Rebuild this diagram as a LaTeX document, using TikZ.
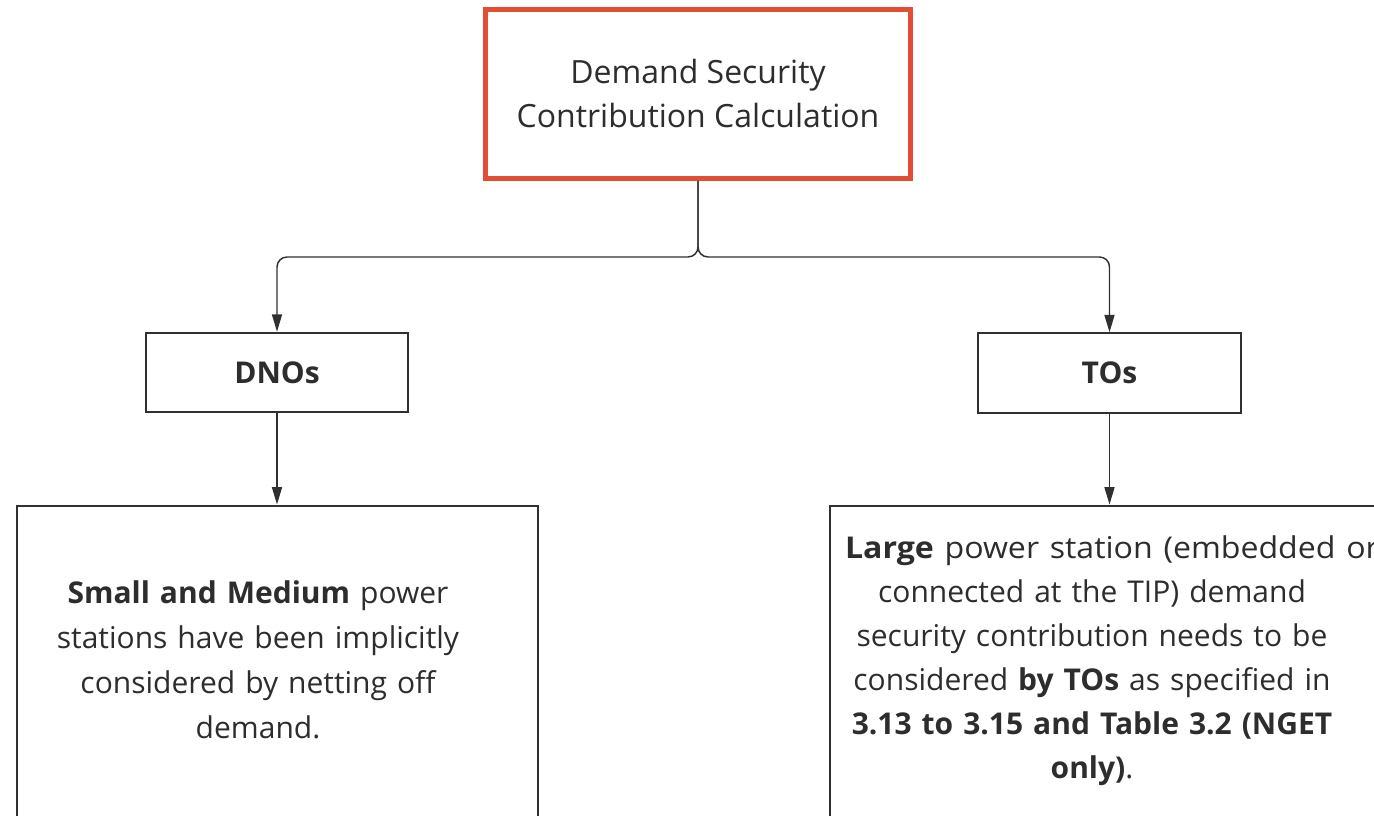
\documentclass[tikz,border=0pt]{standalone}
\usepackage{fontspec}
\usepackage{graphicx}
\setmainfont{Open Sans}
\usetikzlibrary{arrows.meta}
\definecolor{boxred}{RGB}{226,77,52}
\definecolor{ink}{RGB}{45,45,45}
\definecolor{edge}{RGB}{48,48,48}
\begin{document}
\begin{tikzpicture}[x=0.75pt,y=-0.75pt,
  box/.style={draw=edge, line width=1.6pt, inner sep=0pt, text=ink},
  title/.style={box, draw=boxred, line width=3.75pt, align=center,
    font=\fontsize{24pt}{33pt}\selectfont},
  party/.style={box, minimum width=197pt, minimum height=59.5pt,
    font=\fontsize{22.5pt}{27pt}\selectfont\bfseries},
  note/.style={text=ink, inner sep=0pt, align=center, anchor=base,
    font=\fontsize{22.5pt}{33.75pt}\selectfont},
  link/.style={draw=edge, line width=1.1pt, rounded corners=7.5pt,
    -{Triangle[length=13pt,width=7.5pt]}}]
\useasboundingbox (0,0) rectangle (1374,816);

% top box
\node[title, minimum width=318.75pt, minimum height=126.75pt] (calc) at (698,94)
  {Demand Security\\Contribution Calculation};

% the two parties
\node[party] (dno) at (277,372.5) {DNOs};
\node[party] (to) at (1109.5,373) {TOs};

% lower boxes, running past the page edge
\node[box, anchor=north west, minimum width=391pt, minimum height=300pt] (dnobox) at (15.5,504.5) {};
\node[box, anchor=north west, minimum width=420pt, minimum height=300pt] (tobox) at (828.5,504.5) {};

% texts of the lower boxes; the first line on the right runs past the box edge
\node[note, text width=345pt] (dnotext) at (258,603)
  {\textbf{Small and Medium} power\\
   stations have been implicitly\\
   considered by netting off\\
   demand.};
\node[note, text width=370.5pt, font=\fontsize{22.5pt}{33pt}\selectfont] (totext) at (1092,558)
  {\makebox[370.5pt][l]{\scalebox{1.07}[1]{\textbf{Large} power station (embedded or}}\\
   connected at the TIP) demand\\
   security contribution needs to be\\
   considered \textbf{by TOs} as specified in\\
   \textbf{3.13 to 3.15 and Table 3.2 (NGET}\\
   \textbf{only)}.};

% connectors
\coordinate (split) at (calc.south |- 0,257);
\draw[link] (calc.south) -- (split) -| (dno.north);
\draw[link] (calc.south) -- (split) -| (to.north);
\draw[link] (dno.south) -- (dno.south |- dnobox.north);
\draw[link] (to.south) -- (to.south |- tobox.north);
\end{tikzpicture}
\end{document}
